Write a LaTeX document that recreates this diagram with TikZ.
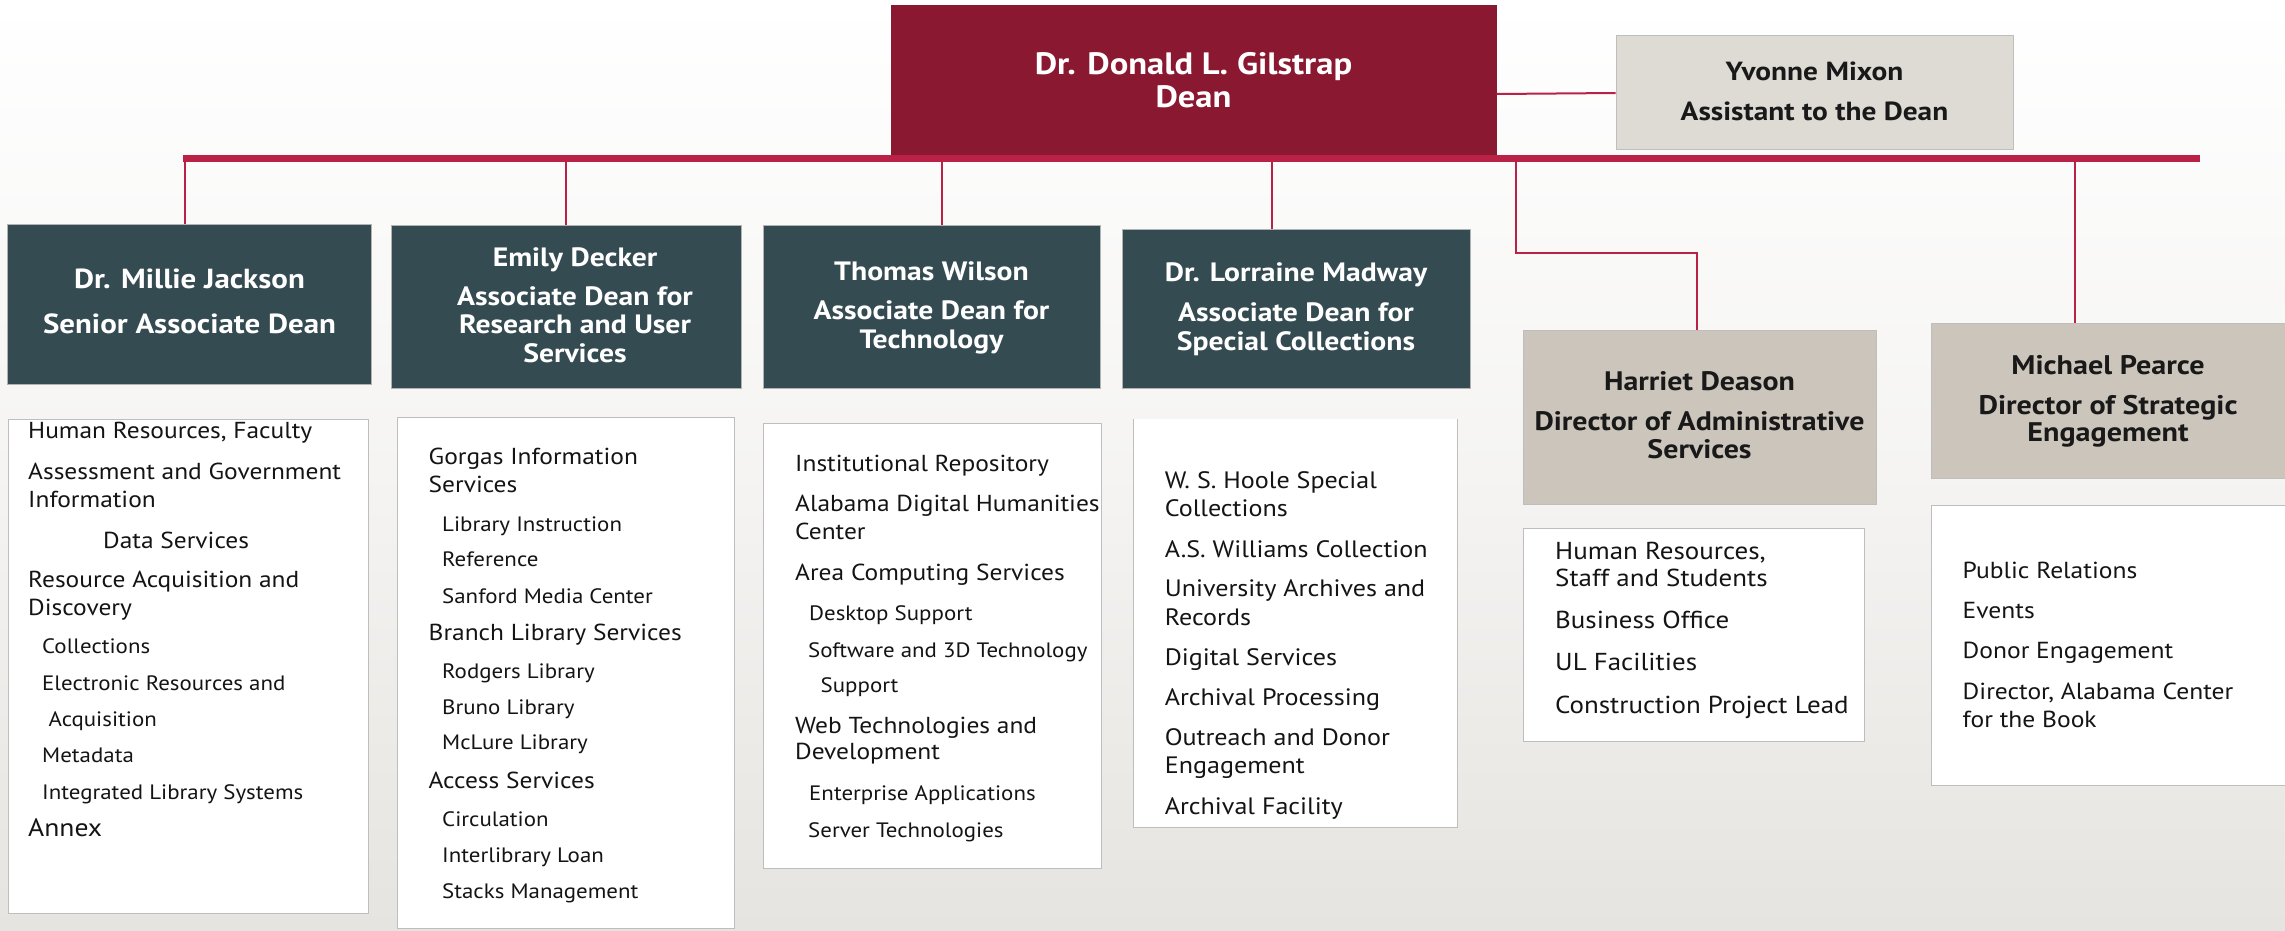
\documentclass[tikz,border=0pt]{standalone}
\usepackage{fontspec}
\setmainfont{PT Sans}[FakeStretch=1.1]
\newfontfamily\hdfont{PT Sans}[FakeStretch=1.12]
\definecolor{deanc}{RGB}{138,24,48}
\definecolor{busc}{RGB}{186,33,70}
\definecolor{tealc}{RGB}{52,75,82}
\definecolor{lightc}{RGB}{222,219,213}
\definecolor{tanc}{RGB}{204,197,187}
\definecolor{bgc}{RGB}{230,228,224}
\definecolor{edgec}{RGB}{190,190,190}
\tikzset{
  box/.style={rectangle, inner sep=0pt, draw=edgec, line width=1bp},
  deanbox/.style={box, fill=deanc, draw=deanc},
  tealbox/.style={box, fill=tealc, draw=gray!60},
  lightbox/.style={box, fill=lightc},
  tanbox/.style={box, fill=tanc},
  listbox/.style={box, fill=white},
  link/.style={draw=busc, line width=2.5bp},
  busline/.style={draw=busc, line width=7bp},
  hw/.style={anchor=base, inner sep=0pt, text=white, font=\hdfont\bfseries\fontsize{26.6}{26.6}\selectfont},
  hk/.style={anchor=base, inner sep=0pt, text=black!90, font=\hdfont\bfseries\fontsize{26.8}{26.8}\selectfont},
  it/.style={anchor=base west, inner sep=0pt, text=black!92, font=\fontsize{23.2}{23.2}\selectfont},
  its/.style={anchor=base west, inner sep=0pt, text=black!92, font=\fontsize{20.9}{20.9}\selectfont},
  itl/.style={anchor=base west, inner sep=0pt, text=black!92, font=\fontsize{25.2}{25.2}\selectfont},
  itlo/.style={it, font=\fontsize{23.8}{23.8}\selectfont},
  itha/.style={it, font=\fontsize{24.6}{24.6}\selectfont},
  itmi/.style={it, font=\fontsize{23.3}{23.3}\selectfont},
}
\begin{document}
\begin{tikzpicture}[x=1bp, y=-1bp]
\useasboundingbox (0,0) rectangle (2285,930);
\shade[top color=white, bottom color=bgc, middle color=white!60!bgc] (0,0) rectangle (2285,930);

% boxes
\node[deanbox, minimum width=605bp, minimum height=150bp] (dean) at (1193.5,80) {};
\node[lightbox, minimum width=397bp, minimum height=114bp] (yvonne) at (1814.5,92) {};
\node[tealbox, minimum width=363bp, minimum height=160bp] (millie) at (189.5,304) {};
\node[tealbox, minimum width=350bp, minimum height=163bp] (emily) at (566,306.5) {};
\node[tealbox, minimum width=337bp, minimum height=163bp] (thomas) at (931.5,306.5) {};
\node[tealbox, minimum width=348bp, minimum height=159bp] (lorraine) at (1296,308.5) {};
\node[tanbox, minimum width=353bp, minimum height=174bp] (harriet) at (1699.5,417) {};
\node[tanbox, minimum width=354bp, minimum height=155bp] (michael) at (2108,400.5) {};

\node[listbox, minimum width=359bp, minimum height=494bp] (millieL) at (188.5,666) {};
\node[listbox, minimum width=337bp, minimum height=511bp] (emilyL) at (565.5,672.5) {};
\node[listbox, minimum width=338bp, minimum height=445bp] (thomasL) at (932,645.5) {};
\node[listbox, draw=none, minimum width=323bp, minimum height=408bp] (lorraineL) at (1295,623) {};
\draw[edgec, line width=1bp] (lorraineL.north west) -- (lorraineL.south west) -- (lorraineL.south east) -- (lorraineL.north east);
\node[listbox, minimum width=341bp, minimum height=213bp] (harrietL) at (1693.5,634.5) {};
\node[listbox, minimum width=354bp, minimum height=280bp] (michaelL) at (2108,645) {};

% connectors
\coordinate (busL) at (183,158.5);
\coordinate (busR) at (2200,158.5);
\draw[busline] (busL) -- (busR);
\draw[link, line width=2bp] (dean.east |- 0,94) -- (yvonne.west |- 0,93);
\draw[link] ([xshift=-4.5bp]millie.north) -- ([xshift=-4.5bp]millie.north |- busL);
\draw[link] (emily.north) -- (emily.north |- busL);
\draw[link] ([xshift=10.5bp]thomas.north) -- ([xshift=10.5bp]thomas.north |- busL);
\draw[link] ([xshift=-24bp]lorraine.north) -- ([xshift=-24bp]lorraine.north |- busL);
\coordinate (hbend) at (1516,253);
\draw[link] (hbend |- busL) -- (hbend) -| ([xshift=-2.5bp]harriet.north);
\draw[link] ([xshift=-33bp]michael.north) -- ([xshift=-33bp]michael.north |- busL);

% header texts
\node[hw, font=\hdfont\bfseries\fontsize{31}{31}\selectfont] (dn1) at (1193.5,74) {Dr. Donald L. Gilstrap};
\node[hw, font=\hdfont\bfseries\fontsize{31}{31}\selectfont] (dn2) at (1193.5,107) {Dean};
\node[hk, font=\hdfont\bfseries\fontsize{26.3}{26.3}\selectfont] (yv1) at (1814.5,80) {Yvonne Mixon};
\node[hk, font=\hdfont\bfseries\fontsize{26.3}{26.3}\selectfont] (yv2) at (1814.5,120.7) {Assistant to the Dean};
\node[hw, font=\hdfont\bfseries\fontsize{27.7}{27.7}\selectfont] (mj1) at (189.5,288) {Dr. Millie Jackson};
\node[hw, font=\hdfont\bfseries\fontsize{27.7}{27.7}\selectfont] (mj2) at (189.5,333) {Senior Associate Dean};
\node[hw] (ed1) at (575,266) {Emily Decker};
\node[hw] (ed2) at (575,305) {Associate Dean for};
\node[hw] (ed3) at (575,333) {Research and User};
\node[hw] (ed4) at (575,362.7) {Services};
\node[hw] (tw1) at (931.5,280) {Thomas Wilson};
\node[hw] (tw2) at (931.5,319) {Associate Dean for};
\node[hw] (tw3) at (931.5,348) {Technology};
\node[hw] (lm1) at (1296,281.7) {Dr. Lorraine Madway};
\node[hw] (lm2) at (1296,321.7) {Associate Dean for};
\node[hw] (lm3) at (1296,350) {Special Collections};
\node[hk] (hd1) at (1699.5,390) {Harriet Deason};
\node[hk] (hd2) at (1699.5,430.5) {Director of Administrative};
\node[hk] (hd3) at (1699.5,458.6) {Services};
\node[hk, font=\hdfont\bfseries\fontsize{27}{27}\selectfont] (mp1) at (2108,374) {Michael Pearce};
\node[hk, font=\hdfont\bfseries\fontsize{27}{27}\selectfont] (mp2) at (2108,414.5) {Director of Strategic};
\node[hk, font=\hdfont\bfseries\fontsize{27}{27}\selectfont] (mp3) at (2108,441) {Engagement};

% Millie list
\node[it] (m1) at (28,438) {Human Resources, Faculty};
\node[it] (m2) at (28,479) {Assessment and Government};
\node[it] (m3) at (28,507) {Information};
\node[it] (m4) at (103,548) {Data Services};
\node[it] (m5) at (28,587.5) {Resource Acquisition and};
\node[it] (m6) at (28,615.5) {Discovery};
\node[its] (m7) at (42,653) {Collections};
\node[its] (m8) at (42,690) {Electronic Resources and};
\node[its] (m9) at (48.5,726) {Acquisition};
\node[its] (m10) at (42,762) {Metadata};
\node[its] (m11) at (42,799) {Integrated Library Systems};
\node[itl] (m12) at (28,836.5) {Annex};

% Emily list
\node[it] (e1) at (428.5,464) {Gorgas Information};
\node[it] (e2) at (428.5,492) {Services};
\node[its] (e3) at (442,531) {Library Instruction};
\node[its] (e4) at (442,566) {Reference};
\node[its] (e5) at (442,603) {Sanford Media Center};
\node[it] (e6) at (428.5,640.5) {Branch Library Services};
\node[its] (e7) at (442,678) {Rodgers Library};
\node[its] (e8) at (442,714) {Bruno Library};
\node[its] (e9) at (442,749.7) {McLure Library};
\node[it] (e10) at (428.5,788.5) {Access Services};
\node[its] (e11) at (442,826) {Circulation};
\node[its] (e12) at (442,862) {Interlibrary Loan};
\node[its] (e13) at (442,898) {Stacks Management};

% Thomas list
\node[it] (t1) at (795,471) {Institutional Repository};
\node[it] (t2) at (795,511) {Alabama Digital Humanities};
\node[it] (t3) at (795,539) {Center};
\node[it] (t4) at (795,580) {Area Computing Services};
\node[its] (t5) at (809,620) {Desktop Support};
\node[its] (t6) at (808,657) {Software and 3D Technology};
\node[its] (t7) at (820.5,692.6) {Support};
\node[it] (t8) at (795,733) {Web Technologies and};
\node[it] (t9) at (795,759) {Development};
\node[its] (t10) at (809,800) {Enterprise Applications};
\node[its] (t11) at (808,837.5) {Server Technologies};

% Lorraine list
\node[itlo] (l1) at (1164.6,488.5) {W. S. Hoole Special};
\node[itlo] (l2) at (1164.6,516.5) {Collections};
\node[itlo] (l3) at (1164.6,557) {A.S. Williams Collection};
\node[itlo] (l4) at (1164.6,596.6) {University Archives and};
\node[itlo] (l5) at (1164.6,625) {Records};
\node[itlo] (l6) at (1164.6,665) {Digital Services};
\node[itlo] (l7) at (1164.6,705) {Archival Processing};
\node[itlo] (l8) at (1164.6,745.6) {Outreach and Donor};
\node[itlo] (l9) at (1164.6,773) {Engagement};
\node[itlo] (l10) at (1164.6,814) {Archival Facility};

% Harriet list
\node[itha] (h1) at (1555,559) {Human Resources,};
\node[itha] (h2) at (1555,586) {Staff and Students};
\node[itha] (h3) at (1555,628.5) {Business Office};
\node[itha] (h4) at (1555,670) {UL Facilities};
\node[itha] (h5) at (1555,713) {Construction Project Lead};

% Michael list
\node[itmi] (p1) at (1962.5,578) {Public Relations};
\node[itmi] (p2) at (1962.5,618.5) {Events};
\node[itmi] (p3) at (1962.5,658.6) {Donor Engagement};
\node[itmi] (p4) at (1962.5,699) {Director, Alabama Center};
\node[itmi] (p5) at (1962.5,727) {for the Book};
\end{tikzpicture}
\end{document}
